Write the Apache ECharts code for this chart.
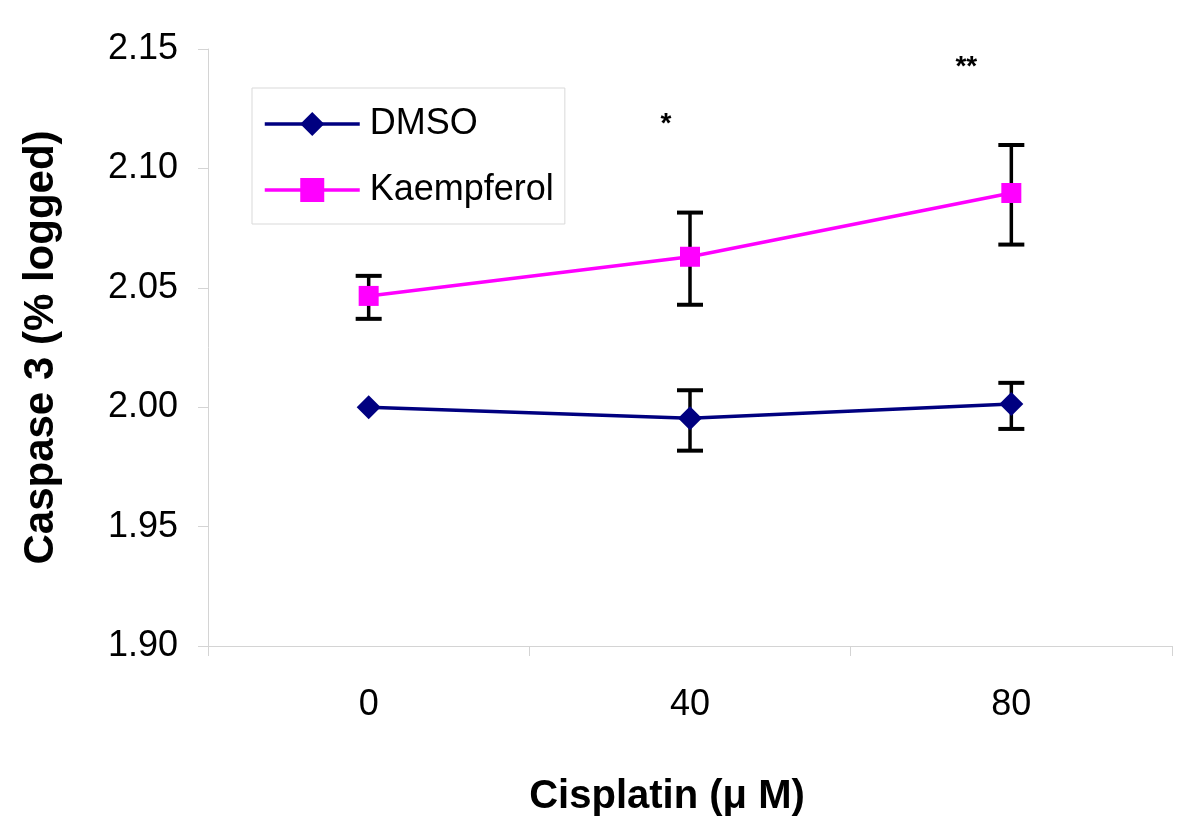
<!DOCTYPE html>
<html>
<head>
<meta charset="utf-8">
<script src="https://cdn.jsdelivr.net/npm/echarts@6/dist/echarts.min.js"></script>
<style>
html,body{margin:0;padding:0;background:#fff;}
#chart{width:1200px;height:833px;}
</style>
</head>
<body>
<div id="chart"></div>
<script>
// ---- data ----
const categories = ['0', '40', '80'];
const dmsoMean = [2.000, 1.9954, 2.0013];
const dmsoLow  = [2.000, 1.9818, 1.9909];
const dmsoHigh = [2.000, 2.0071, 2.0102];
const kaemMean = [2.0466, 2.0630, 2.0897];
const kaemLow  = [2.0370, 2.0429, 2.0681];
const kaemHigh = [2.0550, 2.0815, 2.1098];
const sigCategory = [1, 2];
const sigValue = [2.1183, 2.1422];
const sigLabel = ['*', '**'];
const yTicks = [1.90, 1.95, 2.00, 2.05, 2.10, 2.15];

const FONT = "'Liberation Sans', Arial, sans-serif";
const AXIS_GRAY = '#d4d4d4';

const errData = [];
for (let i = 0; i < categories.length; i++) {
  if (dmsoHigh[i] !== dmsoLow[i]) errData.push([i, dmsoLow[i], dmsoHigh[i]]);
  if (kaemHigh[i] !== kaemLow[i]) errData.push([i, kaemLow[i], kaemHigh[i]]);
}
const sigData = sigCategory.map((c, i) => [c, sigValue[i], sigLabel[i]]);
const sigOffsets = [-24, -45];

const chart = echarts.init(document.getElementById('chart'), null, {renderer: 'canvas'});
chart.setOption({
  animation: false,
  backgroundColor: '#ffffff',
  grid: {left: 208, right: 28, top: 49, bottom: 187, containLabel: false},
  legend: {
    left: 252, top: 88,
    orient: 'vertical',
    padding: [18, 11, 16, 11],
    borderColor: '#d9d9d9', borderWidth: 1,
    itemWidth: 95, itemHeight: 30, itemGap: 30,
    lineStyle: {width: 3.5},
    textStyle: {fontFamily: FONT, fontSize: 36, color: '#000', lineHeight: 30, padding: [0, 0, 0, 5]},
    data: ['DMSO', 'Kaempferol']
  },
  xAxis: {
    type: 'category',
    data: categories,
    boundaryGap: true,
    name: 'Cisplatin (\u03bc M)',
    nameLocation: 'middle',
    nameGap: 131,
    nameTextStyle: {fontFamily: FONT, fontSize: 40, fontWeight: 'bold', color: '#000', padding: [0, 46, 0, 0]},
    axisLine: {show: true, lineStyle: {color: AXIS_GRAY, width: 1}},
    axisTick: {show: true, length: 10, inside: false, lineStyle: {color: AXIS_GRAY}},
    axisLabel: {fontFamily: FONT, fontSize: 36, color: '#000', margin: 41},
    splitLine: {show: false}
  },
  yAxis: {
    type: 'value',
    min: 1.90, max: 2.15, interval: 0.05,
    name: 'Caspase 3 (% logged)',
    nameLocation: 'middle',
    nameGap: 146,
    nameTextStyle: {fontFamily: FONT, fontSize: 42, fontWeight: 'bold', color: '#000'},
    axisLine: {show: true, lineStyle: {color: AXIS_GRAY, width: 1}},
    axisTick: {show: true, length: 10, inside: false, lineStyle: {color: AXIS_GRAY}},
    axisLabel: {fontFamily: FONT, fontSize: 36, color: '#000', margin: 30,
      formatter: v => {
        const t = yTicks.find(x => Math.abs(x - v) < 1e-6);
        return (t !== undefined ? t : v).toFixed(2);
      }},
    splitLine: {show: false}
  },
  series: [
    {
      name: 'errorbars',
      type: 'custom',
      z: 1,
      silent: true,
      data: errData,
      renderItem: function (params, api) {
        const x = api.value(0);
        const lo = api.coord([x, api.value(1)]);
        const hi = api.coord([x, api.value(2)]);
        const hw = 13;
        const st = {stroke: '#000', lineWidth: 4};
        return {
          type: 'group',
          children: [
            {type: 'line', shape: {x1: lo[0], y1: lo[1], x2: hi[0], y2: hi[1]}, style: {stroke: '#000', lineWidth: 3.5}},
            {type: 'line', shape: {x1: lo[0] - hw, y1: lo[1], x2: lo[0] + hw, y2: lo[1]}, style: st},
            {type: 'line', shape: {x1: hi[0] - hw, y1: hi[1], x2: hi[0] + hw, y2: hi[1]}, style: st}
          ]
        };
      }
    },
    {
      name: 'DMSO',
      type: 'line',
      z: 3,
      data: dmsoMean,
      symbol: 'diamond',
      symbolSize: 24,
      showAllSymbol: true,
      lineStyle: {color: '#000080', width: 3.5},
      itemStyle: {color: '#000080'}
    },
    {
      name: 'Kaempferol',
      type: 'line',
      z: 3,
      data: kaemMean,
      symbol: 'rect',
      symbolSize: 20,
      showAllSymbol: true,
      lineStyle: {color: '#ff00ff', width: 3.5},
      itemStyle: {color: '#ff00ff'}
    },
    {
      name: 'sig',
      type: 'custom',
      z: 4,
      silent: true,
      data: sigData,
      renderItem: function (params, api) {
        const p = api.coord([api.value(0), api.value(1)]);
        return {
          type: 'text',
          x: p[0] + sigOffsets[params.dataIndex],
          y: p[1],
          style: {text: sigLabel[params.dataIndex], font: 'bold 28px ' + FONT, fill: '#000', align: 'center', verticalAlign: 'middle'}
        };
      }
    }
  ]
});
</script>
</body>
</html>
